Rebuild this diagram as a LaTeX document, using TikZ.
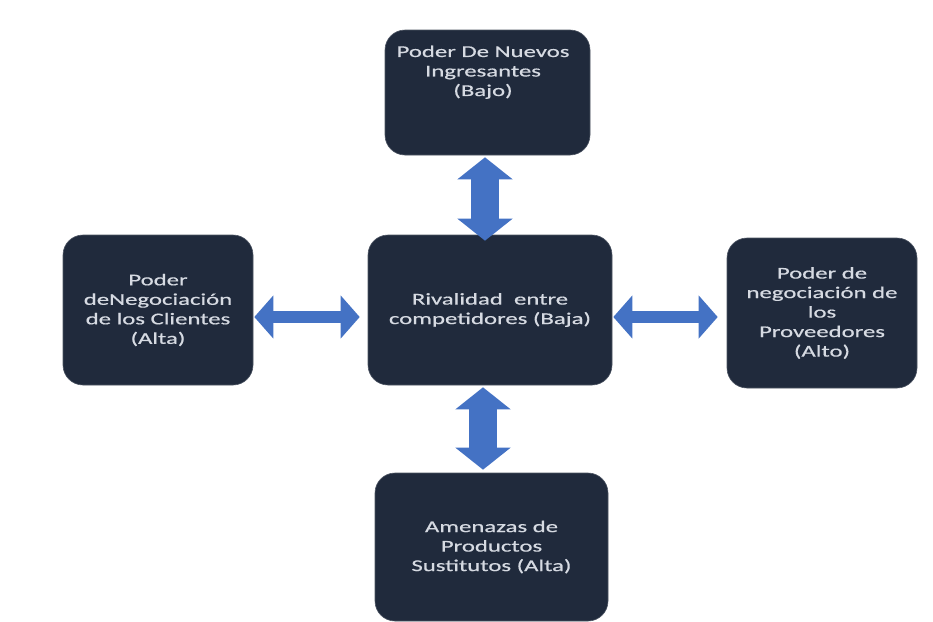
\documentclass[tikz,border=0pt]{standalone}
\usepackage{fontspec}
\newfontfamily\boxfont[FakeStretch=1.5,FakeBold=0.6]{Carlito}
\usetikzlibrary{arrows.meta}
\definecolor{boxfill}{HTML}{202A3C}
\definecolor{boxtext}{HTML}{D6DAE2}
\definecolor{arrowblue}{HTML}{4472C4}
\tikzset{
  forcetext/.style={text=boxtext, align=center,
    font=\boxfont\fontsize{16.5pt}{19.5pt}\selectfont},
  force/.style={forcetext, draw=boxfill!80!white, line width=0.6pt, fill=boxfill,
    rounded corners=20pt, inner sep=4pt},
  vlink/.style={draw=arrowblue, line width=28pt,
    {Triangle[width=54pt,length=22pt]}-{Triangle[width=54pt,length=22pt]}},
  hlink/.style={draw=arrowblue, line width=12pt,
    {Triangle[width=42pt,length=19pt]}-{Triangle[width=42pt,length=19pt]}}
}
\begin{document}
\begin{tikzpicture}[x=1pt,y=-1pt]
  \useasboundingbox (0,0) rectangle (933,621);
  \fill[white] (0,0) rectangle (933,621);

  % the five forces
  \node[force, minimum width=244pt, minimum height=150pt] (rival) at (490,310)
    {Rivalidad\ \ entre\\competidores (Baja)};
  \node[force, minimum width=205pt, minimum height=125pt] (entrants) at (487.5,92.5) {};
  \node[forcetext, anchor=north] (entrantstext) at (483,42)
    {Poder De Nuevos\\Ingresantes\\(Bajo)};
  \node[force, minimum width=190pt, minimum height=150pt] (clients) at (158,310)
    {Poder\\deNegociación\\de los Clientes\\(Alta)};
  \node[force, minimum width=190pt, minimum height=150pt] (suppliers) at (822,313)
    {Poder de\\negociación de\\los\\Proveedores\\(Alto)};
  \node[force, minimum width=233pt, minimum height=148pt] (substitutes) at (491.5,547)
    {Amenazas de\\Productos\\Sustitutos (Alta)};

  % two-way links to the central rivalry box
  \draw[vlink, shorten <=2pt, shorten >=-6pt] (entrants.south -| 485,0) -- (rival.north -| 485,0);
  \draw[vlink, shorten <=2pt, shorten >=3pt] (rival.south -| 483,0) -- (substitutes.north -| 483,0);
  \draw[hlink, shorten <=1pt, shorten >=8pt] (clients.east |- 0,317) -- (rival.west |- 0,317);
  \draw[hlink, shorten <=1pt, shorten >=9pt] (rival.east |- 0,317) -- (suppliers.west |- 0,317);
\end{tikzpicture}
\end{document}
